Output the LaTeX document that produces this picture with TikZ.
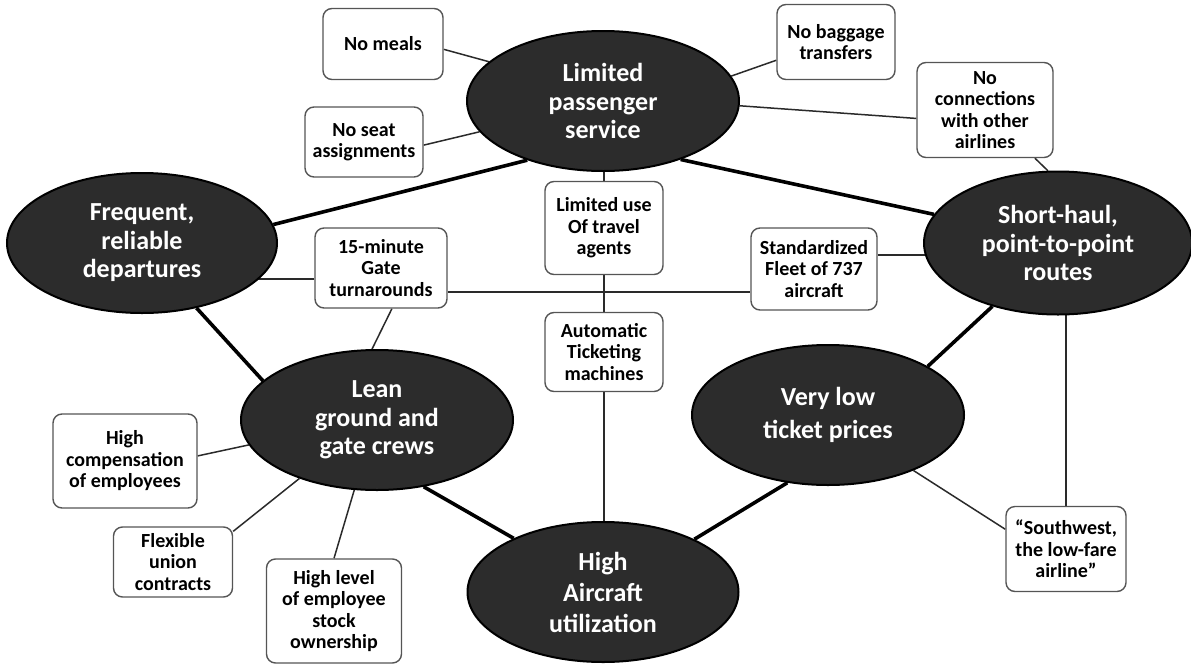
\documentclass[tikz,border=0pt]{standalone}
\usepackage{fontspec}
\setmainfont{Carlito}
\usetikzlibrary{shapes.geometric}
\pgfdeclarelayer{bg}
\pgfsetlayers{bg,main}
\definecolor{hubfill}{HTML}{2C2C2C}
\definecolor{boxline}{HTML}{555555}
\definecolor{thinline}{HTML}{2A2A2A}
\tikzset{
  hub/.style={ellipse, draw=black, line width=2pt, fill=hubfill, text=white,
    font=\bfseries\fontsize{26}{28.5}\selectfont, align=center, inner sep=0pt,
    minimum width=272pt, minimum height=140pt},
  leaf/.style={rectangle, rounded corners=9pt, draw=boxline, line width=1.4pt,
    fill=white, text=black, font=\bfseries\fontsize{20}{21.5}\selectfont,
    align=center, inner sep=0pt},
  major/.style={line width=3.6pt, black},
  minor/.style={line width=1.5pt, thinline},
}
\begin{document}
\begin{tikzpicture}[x=1pt, y=-1pt]
\useasboundingbox (0,0) rectangle (1191,664);

% activity hubs
\node[hub] (lps) at (603,101) {Limited\\passenger\\service};
\node[hub, minimum width=270pt] (freq) at (142,243) {Frequent,\\reliable\\departures};
\node[hub, minimum width=268pt, minimum height=143pt] (short) at (1058,243) {Short-haul,\\point-to-point\\routes};
\node[hub] (lean) at (377,420) {Lean\\ground and\\gate crews};
\node[hub, font=\bfseries\fontsize{26}{33}\selectfont] (low) at (828,415) {Very low\\ticket prices};
\node[hub, minimum width=271pt, font=\bfseries\fontsize{26}{31}\selectfont] (high) at (603,592) {High\\Aircraft\\utilization};

% supporting activities
\node[leaf, minimum width=120pt, minimum height=71pt] (meals) at (383,44) {No meals};
\node[leaf, minimum width=118pt, minimum height=70pt] (seat) at (364,142) {No seat\\assignments};
\node[leaf, minimum width=118pt, minimum height=75pt] (bag) at (836,42) {No baggage\\transfers};
\node[leaf, minimum width=136pt, minimum height=95pt] (conn) at (985,110) {No\\connections\\with other\\airlines};
\node[leaf, minimum width=118pt, minimum height=93pt] (agents) at (604,228) {Limited use\\Of travel\\agents};
\node[leaf, minimum width=132pt, minimum height=80pt] (tmin) at (381,268) {15-minute\\Gate\\turnarounds};
\node[leaf, minimum width=126pt, minimum height=82pt] (fleet) at (814,269) {Standardized\\Fleet of 737\\aircraft};
\node[leaf, minimum width=118pt, minimum height=79pt] (auto) at (604,352) {Automatic\\Ticketing\\machines};
\node[leaf, minimum width=144pt, minimum height=94pt] (comp) at (125,461) {High\\compensation\\of employees};
\node[leaf, minimum width=119pt, minimum height=70pt] (flex) at (173,562) {Flexible\\union\\contracts};
\node[leaf, minimum width=135pt, minimum height=104pt] (stock) at (334,611) {High level\\of employee\\stock\\ownership};
\node[leaf, minimum width=120pt, minimum height=85pt] (sw) at (1066,549) {“Southwest,\\the low-fare\\airline”};

\begin{pgfonlayer}{bg}
  % links between the hubs
  \draw[major] (lps.218.7) -- (freq.8.8);
  \draw[major] (lps.323) -- (short.167.4);
  \draw[major] (freq.310.9) -- (lean.161.7);
  \draw[major] (lean.305.6) -- (high.149);
  \draw[major] (high.30.4) -- (low.239.5);
  \draw[major] (low.26.8) -- (short.224.6);

  % links to the supporting activities
  \draw[minor] (meals.-5) -- (lps.161.7);
  \draw[minor] (seat.-3) -- (lps.194.4);
  \draw[minor] (bag.197.8) -- (lps.11.3);
  \draw[minor] (conn.187.7) -- (lps.358.3);
  \draw[minor] (conn.-44.4) -- (short.98.8);
  \draw[minor] (agents.north) -- (agents.north |- lps.center);
  \draw[minor] (agents.south) -- (auto.north);
  \draw[minor] (auto.south) -- (auto.south |- high.center);
  \draw[minor] ([yshift=-11pt]tmin.west) -- ([yshift=-11pt]tmin.west -| freq.center);
  \draw[minor] ([yshift=-24pt]tmin.east) -- ([yshift=-24pt]tmin.east -| fleet.west);
  \draw[minor] ([yshift=14pt]fleet.east) -- ([yshift=14pt]fleet.east -| short.center);
  \draw[minor] (tmin.-75) -- (lean.94);
  \draw[minor] (comp.4.7) -- (lean.191);
  \draw[minor] (flex.27.8) -- (lean.217.3);
  \draw[minor] (stock.north) -- (lean.252.3);
  \draw[minor] (sw.162.4) -- (low.327.7);
  \draw[minor] (sw.north) -- (sw.north |- short.center);
\end{pgfonlayer}
\end{tikzpicture}
\end{document}
